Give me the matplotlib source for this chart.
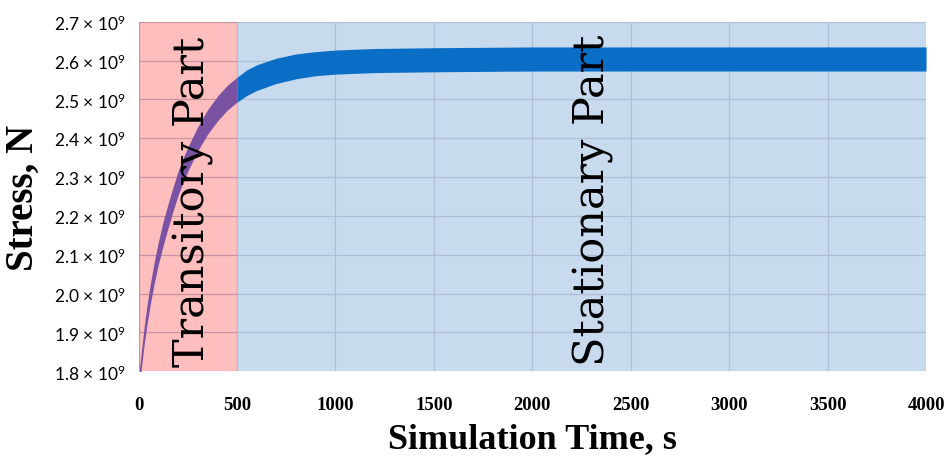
import matplotlib
matplotlib.use("Agg")
import matplotlib.pyplot as plt
import numpy as np
from matplotlib.ticker import FuncFormatter, MultipleLocator

# stress band (upper / lower envelope of the oscillating signal), in 1e9 N
time_s = [0, 10, 20, 30, 45, 60, 80, 100, 125, 150, 175, 200, 225, 250, 300,
          350, 400, 450, 500, 550, 600, 700, 800, 900, 1000, 1200, 1500,
          2000, 2500, 3000, 3500, 4000]
stress_hi = [1.786, 1.831, 1.877, 1.921, 1.977, 2.026, 2.083, 2.132, 2.186,
             2.231, 2.274, 2.314, 2.347, 2.377, 2.429, 2.473, 2.508, 2.536,
             2.557, 2.576, 2.589, 2.606, 2.617, 2.623, 2.627, 2.631, 2.633,
             2.635, 2.635, 2.635, 2.635, 2.635]
stress_lo = [1.744, 1.789, 1.833, 1.875, 1.927, 1.974, 2.027, 2.074, 2.124,
             2.169, 2.212, 2.252, 2.285, 2.315, 2.367, 2.410, 2.444, 2.472,
             2.493, 2.510, 2.523, 2.541, 2.553, 2.561, 2.565, 2.569, 2.571,
             2.573, 2.573, 2.573, 2.573, 2.573]

transitory_end = 500
phase_labels = ["Transitory Part", "Stationary Part"]
phase_label_x = [275, 2310]
phase_label_y = [2.238, 2.243]

xticks = [0, 500, 1000, 1500, 2000, 2500, 3000, 3500, 4000]
SCALE = 1e9

plt.rcParams["mathtext.default"] = "regular"

t = np.array(time_s)
hi = np.array(stress_hi) * SCALE
lo = np.array(stress_lo) * SCALE

fig = plt.figure(figsize=(9.49, 4.64), dpi=100)
ax = fig.add_axes([0.146, 0.1976, 0.8298, 0.7535])

ax.set_xlim(0, 4000)
ax.set_ylim(1.8 * SCALE, 2.7 * SCALE)

# background regions
ax.axvspan(transitory_end, 4000, color="#C8DAEE", lw=0, zorder=0)
ax.axvspan(0, transitory_end, color="#FF3B3B", alpha=0.33, lw=0, zorder=0.8)

ax.set_axisbelow(True)
ax.grid(True, color="#AEBFD5", lw=0.9)
ax.set_xticks(xticks)
ax.yaxis.set_major_locator(MultipleLocator(0.1 * SCALE))

# stress band: purple over the transitory zone, blue afterwards
ax.fill_between(t, lo, hi, where=t <= transitory_end, color="#7A52A3",
                lw=0, zorder=2)
ax.fill_between(t, lo, hi, where=t >= transitory_end, color="#0A6EC6",
                lw=0, zorder=2)

for label, x, y in zip(phase_labels, phase_label_x, phase_label_y):
    ax.text(x, y * SCALE, label, rotation=90, ha="center", va="center",
            family="DejaVu Serif", fontsize=31, color="black", zorder=3)

for side in ax.spines.values():
    side.set_visible(False)

ax.tick_params(length=0)
ax.tick_params(axis="y", pad=9)
ax.tick_params(axis="x", pad=18)
ax.yaxis.set_major_formatter(
    FuncFormatter(lambda v, _: f"{v / SCALE:.1f} × 10$^{{9}}$"))
for lab in ax.get_yticklabels():
    lab.set_family("Lato")
    lab.set_fontsize(12.5)
for lab in ax.get_xticklabels():
    lab.set_family("Liberation Serif")
    lab.set_fontweight("bold")
    lab.set_fontsize(13.5)

fig.text(532 / 949, 1 - 440 / 464, "Simulation Time, s", ha="center",
         va="center", family="Liberation Serif", fontweight="bold",
         fontsize=26)
fig.text(23 / 949, 1 - 197.5 / 464, "Stress, N", rotation=90, ha="center",
         va="center", family="Liberation Serif", fontweight="bold",
         fontsize=28)

fig.savefig("out.png", dpi=100)
